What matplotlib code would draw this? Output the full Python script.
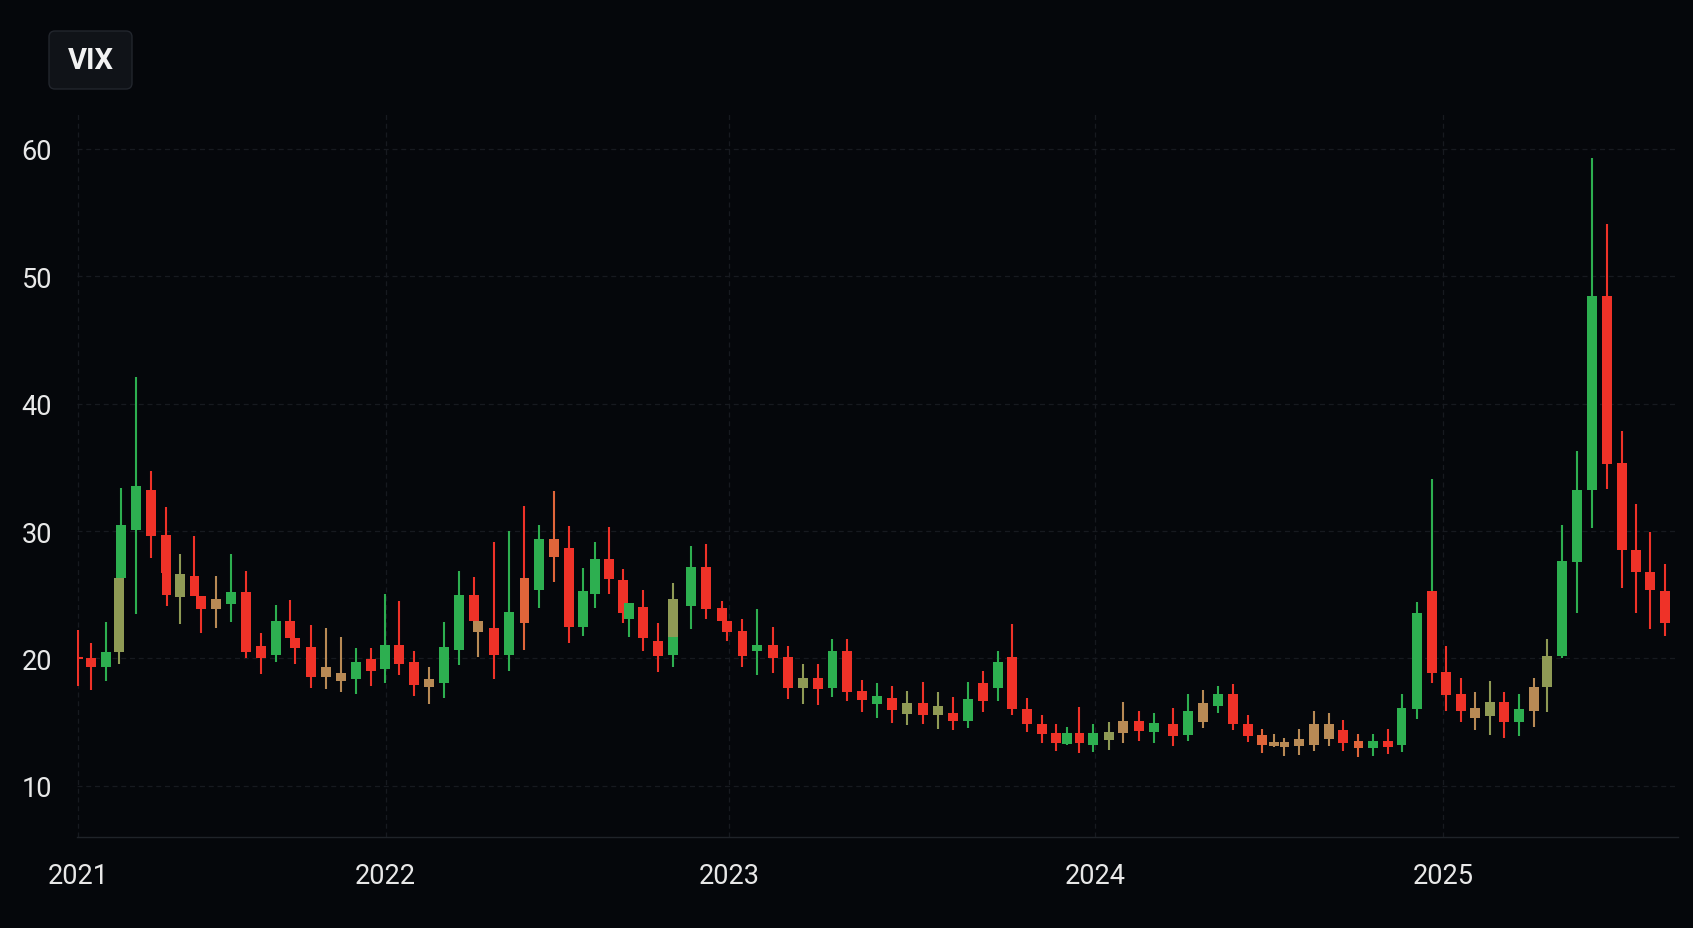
import numpy as np
import matplotlib
matplotlib.use("Agg")
import matplotlib.pyplot as plt
from matplotlib.patches import FancyBboxPatch
from matplotlib.transforms import IdentityTransform

# candle slot positions (~1 slot per candle)
pos = [0.0, 0.88, 1.89, 2.79, 2.91, 3.92, 4.93, 5.93, 5.98, 6.89,
       7.86, 8.29, 9.32, 10.34, 11.35, 12.34, 13.36, 14.32, 14.66, 15.74,
       16.76, 17.77, 18.78, 19.78, 20.74, 21.71, 22.7, 23.72, 24.73, 25.74,
       26.76, 27.03, 28.09, 29.1, 30.16, 31.17, 32.16, 33.18, 34.14, 34.93,
       35.86, 36.82, 37.25, 38.15, 39.17, 40.2, 40.2, 41.4, 42.41, 43.49,
       43.83, 44.89, 45.9, 46.94, 47.95, 48.97, 49.98, 50.97, 51.98, 52.97,
       53.99, 55.0, 56.03, 57.07, 58.09, 59.14, 60.14, 61.13, 62.14, 63.09,
       64.14, 65.11, 66.08, 66.8, 67.66, 68.6, 69.64, 70.63, 71.67, 72.72,
       73.97, 75.02, 76.03, 77.05, 78.06, 79.03, 80.02, 80.83, 81.51, 82.52,
       83.51, 84.53, 85.49, 86.51, 87.5, 88.49, 89.43, 90.45, 91.47, 92.43,
       93.43, 94.39, 95.41, 96.37, 97.38, 98.38, 99.26, 100.29, 101.3, 102.28,
       103.29, 104.3, 105.27, 106.24, 107.21]

opens = [20.1, 20.0, 19.3, 20.5, 26.35, 30.1, 33.2, 29.7, 26.7, 24.8,
         26.5, 24.9, 23.9, 24.3, 25.2, 21.0, 20.3, 22.95, 21.6, 20.9,
         19.35, 18.9, 18.4, 19.95, 19.15, 21.05, 19.75, 17.8, 18.1, 20.7,
         24.95, 22.95, 22.4, 20.25, 22.8, 25.35, 28.0, 28.7, 22.45, 25.05,
         27.8, 26.15, 23.1, 24.05, 21.4, 20.3, 21.65, 24.1, 27.2, 23.95,
         22.95, 22.15, 20.55, 21.05, 20.15, 17.65, 18.45, 17.65, 20.55, 17.45,
         16.45, 16.9, 15.65, 16.5, 15.55, 15.7, 15.1, 18.05, 17.65, 20.1,
         16.0, 14.9, 14.15, 13.3, 14.15, 13.2, 13.6, 14.15, 15.1, 14.2,
         14.9, 14.0, 15.05, 16.25, 17.25, 14.9, 14.0, 13.1, 13.05, 13.1,
         13.25, 14.9, 14.4, 13.5, 13.0, 13.55, 13.2, 16.05, 25.3, 18.95,
         17.25, 15.3, 15.45, 16.55, 15.05, 15.85, 17.75, 20.2, 27.6, 33.2,
         48.45, 35.3, 28.55, 26.8, 25.3]

highs = [22.2, 21.2, 22.9, 26.3, 33.4, 42.1, 34.7, 31.9, 26.7, 28.2,
         29.6, 24.9, 26.5, 28.2, 26.9, 22.0, 24.2, 24.6, 21.6, 22.6,
         22.4, 21.7, 20.8, 20.8, 25.05, 24.5, 20.6, 19.3, 22.9, 26.9,
         26.4, 22.95, 29.1, 30.0, 32.0, 30.5, 33.15, 30.4, 27.1, 29.1,
         30.35, 27.05, 24.35, 25.35, 22.8, 21.65, 25.9, 28.85, 28.95, 24.5,
         22.95, 23.1, 23.9, 22.45, 21.0, 19.55, 19.55, 21.55, 21.5, 18.3,
         18.1, 17.85, 17.45, 18.15, 17.4, 16.95, 18.15, 19.0, 20.55, 22.7,
         16.9, 15.55, 14.85, 14.65, 16.2, 14.9, 15.05, 16.55, 15.85, 15.75,
         16.1, 17.25, 17.5, 17.85, 18.0, 15.55, 14.45, 14.05, 13.8, 14.5,
         15.85, 15.7, 15.15, 14.1, 14.1, 14.45, 17.25, 24.4, 34.1, 21.0,
         18.5, 17.35, 18.25, 17.4, 17.2, 18.45, 21.5, 30.5, 36.3, 59.3,
         54.05, 37.85, 32.1, 29.9, 27.4]

lows = [17.85, 17.5, 18.2, 19.55, 26.3, 23.5, 27.9, 26.7, 24.1, 22.7,
        24.9, 22.0, 22.4, 22.9, 20.0, 18.8, 19.7, 21.6, 19.55, 17.7,
        17.6, 17.4, 17.2, 17.85, 18.1, 18.7, 17.05, 16.4, 16.9, 19.5,
        22.95, 20.1, 18.4, 19.0, 20.7, 24.0, 26.0, 21.25, 21.8, 24.0,
        25.05, 22.8, 21.7, 20.6, 18.95, 19.3, 21.65, 22.35, 23.1, 22.95,
        21.4, 19.35, 18.7, 18.85, 16.8, 16.45, 16.35, 16.95, 16.7, 15.8,
        15.3, 14.95, 14.75, 14.85, 14.5, 14.4, 14.55, 15.8, 16.65, 15.55,
        14.25, 13.4, 12.75, 13.25, 12.55, 12.7, 12.8, 13.35, 13.5, 13.35,
        13.15, 13.55, 14.55, 15.75, 14.4, 13.45, 12.6, 13.05, 12.35, 12.45,
        12.75, 13.15, 12.75, 12.25, 12.35, 12.5, 12.7, 15.25, 18.1, 15.9,
        15.0, 14.4, 14.0, 13.75, 13.9, 14.6, 15.8, 20.0, 23.6, 30.25,
        33.3, 25.55, 23.6, 22.3, 21.8]

closes = [19.95, 19.3, 20.5, 26.3, 30.5, 33.5, 29.6, 26.7, 25.0, 26.6,
          24.9, 23.9, 24.65, 25.2, 20.5, 20.0, 22.95, 21.6, 20.8, 18.55,
          18.55, 18.25, 19.75, 19.05, 21.05, 19.6, 17.9, 18.4, 20.9, 24.95,
          22.95, 22.1, 20.25, 23.65, 26.3, 29.35, 29.4, 22.45, 25.3, 27.8,
          26.2, 23.6, 24.35, 21.6, 20.2, 21.65, 24.65, 27.2, 23.9, 22.95,
          22.05, 20.2, 21.05, 20.0, 17.65, 18.45, 17.6, 20.55, 17.35, 16.75,
          17.05, 15.95, 16.5, 15.6, 16.25, 15.1, 16.8, 16.65, 19.7, 16.0,
          14.85, 14.05, 13.35, 14.15, 13.4, 14.15, 14.2, 15.1, 14.3, 14.95,
          13.95, 15.9, 16.5, 17.25, 14.85, 13.95, 13.25, 13.45, 13.45, 13.7,
          14.9, 13.65, 13.35, 13.0, 13.5, 13.05, 16.1, 23.55, 18.85, 17.15,
          15.85, 16.1, 16.6, 15.05, 16.05, 17.75, 20.2, 27.65, 33.2, 48.4,
          35.25, 28.5, 26.75, 25.4, 22.75]

year_labels = ["2021", "2022", "2023", "2024", "2025"]
year_pos = [0.0, 20.78, 43.99, 68.72, 92.23]
y_ticks = [10, 20, 30, 40, 50, 60]

# candles that come out in a muted tan / olive / orange shade in the picture
tan_idx = [12, 20, 21, 27, 31, 77, 82, 87, 88, 89, 90, 91, 101, 105]
olive_idx = [3, 9, 46, 55, 62, 64, 76, 102, 106]
orange_idx = [34, 36, 86, 93]
# upper wicks drawn in another colour than their body
upper_wick_green = [98]
upper_wick_red = [34]

BG = "#05070b"
GREEN = "#2daf50"
RED = "#ef3228"
TAN = "#b88a55"
OLIVE = "#8f9a55"
ORANGE = "#e0653a"
GRID = "#171a20"
TXT = "#e8e8e8"

plt.rcParams['font.family'] = ['Roboto', 'DejaVu Sans']

o = np.array(opens)
c = np.array(closes)
top = np.maximum(o, c)
bot = np.minimum(o, c)
colors = np.where(c >= o, GREEN, RED).astype(object)
for i in tan_idx:
    colors[i] = TAN
for i in olive_idx:
    colors[i] = OLIVE
for i in orange_idx:
    colors[i] = ORANGE
up_colors = colors.copy()
for i in upper_wick_green:
    up_colors[i] = GREEN
for i in upper_wick_red:
    up_colors[i] = RED
colors = list(colors)
up_colors = list(up_colors)

fig = plt.figure(figsize=(16.93, 9.29), dpi=100, facecolor=BG)
ax = fig.add_axes([0.0455, 0.098, 0.9455, 0.778])
ax.set_facecolor(BG)

# grid
for y in y_ticks:
    ax.axhline(y, color=GRID, lw=0.9, ls=(0, (4, 3)), zorder=0)
for x in year_pos:
    ax.axvline(x, color=GRID, lw=0.9, ls=(0, (4, 3)), zorder=0)

# wicks + bodies
ax.vlines(pos, lows, bot, colors=colors, lw=1.5, zorder=2)
ax.vlines(pos, top, highs, colors=up_colors, lw=1.5, zorder=2)
body = np.maximum(top - bot, 0.12)
ax.bar(pos, body, bottom=bot, width=0.66, color=colors,
       linewidth=0, zorder=3)

ax.set_xlim(-0.07, 108.09)
ax.set_ylim(6.0, 62.7)
ax.set_xticks(year_pos)
ax.set_xticklabels(year_labels)
ax.set_yticks(y_ticks)
ax.tick_params(length=0, colors=TXT, labelsize=19.5)
ax.tick_params(axis='y', pad=18)
ax.tick_params(axis='x', pad=18)
for s in ['top', 'right', 'left']:
    ax.spines[s].set_visible(False)
ax.spines['bottom'].set_color("#1f2329")
ax.spines['bottom'].set_linewidth(1.0)

# VIX badge, top-left (figure pixels)
H = 929
badge = FancyBboxPatch((49, H - 90), 83, 58,
                       boxstyle="round,pad=0,rounding_size=6",
                       fc="#101318", ec="#22262d", lw=1.0,
                       transform=IdentityTransform())
fig.patches.append(badge)
fig.text(90.5 / 1693, 1 - 61 / H, "VIX", color="#f2f2f2", fontsize=21,
         fontweight='bold', ha='center', va='center')

fig.savefig("out.png", dpi=100, facecolor=BG)
